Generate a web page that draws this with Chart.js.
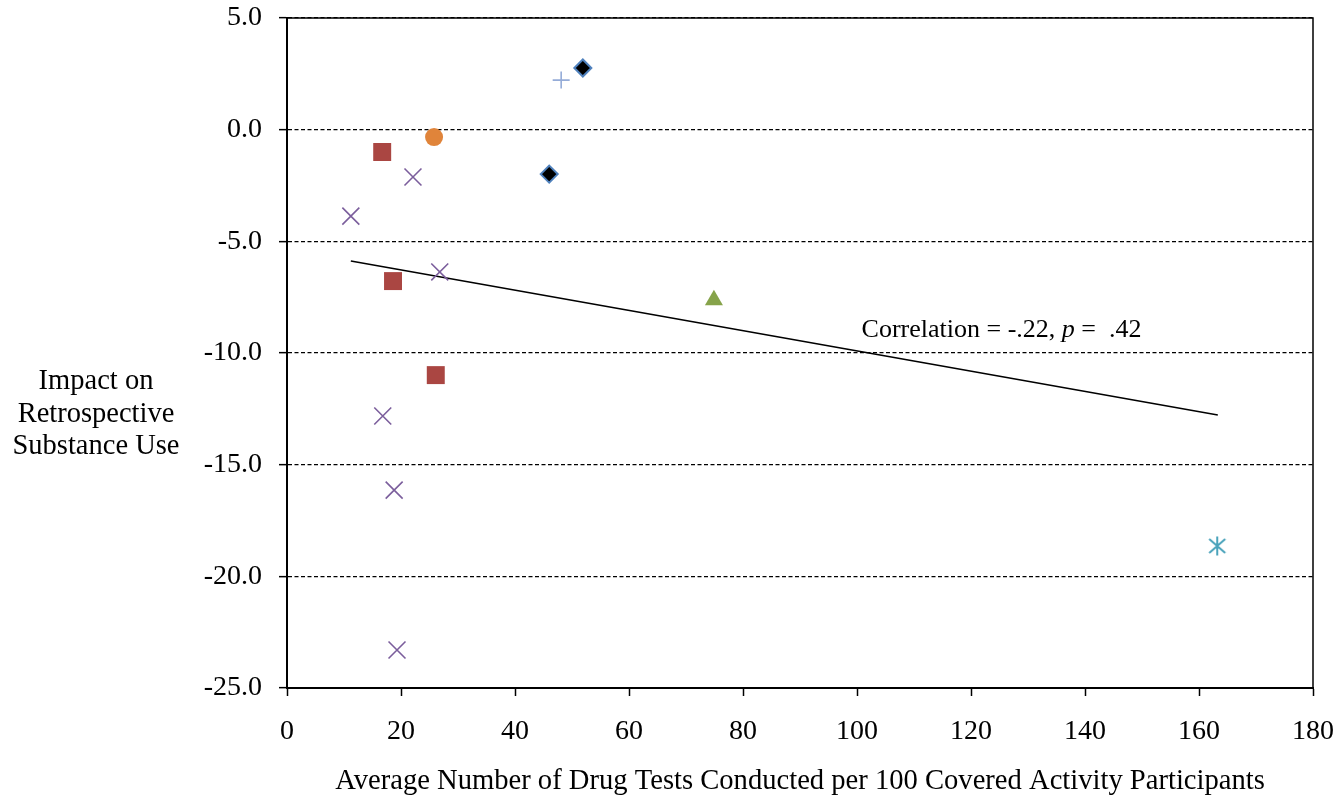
<!DOCTYPE html>
<html>
<head>
<meta charset="utf-8">
<script src="https://cdn.jsdelivr.net/npm/chart.js@4"></script>
<style>
  html, body { margin: 0; padding: 0; background: #fff; }
  #wrap { width: 1341px; height: 798px; }
</style>
</head>
<body>
<div id="wrap"><canvas id="chart" width="1341" height="798"></canvas></div>
<script>
// site values: tests per 100 participants (x) and impact (y)
const diamondX = [51.9, 46.0];
const diamondY = [2.76, -1.99];
const plusX = [48.1];
const plusY = [2.22];
const circleX = [25.8];
const circleY = [-0.33];
const squareX = [16.7, 18.6, 26.1];
const squareY = [-1.0, -6.78, -10.99];
const crossX = [11.2, 22.1, 26.8, 16.8, 18.8, 19.3];
const crossY = [-3.87, -2.12, -6.37, -12.82, -16.14, -23.3];
const triangleX = [74.9];
const triangleY = [-7.63];
const starX = [163.2];
const starY = [-18.64];

// fitted line end points
const trendX = [11.2, 163.3];
const trendY = [-5.88, -12.78];

const xTicks = [0, 20, 40, 60, 80, 100, 120, 140, 160, 180];
const yTicks = [5, 0, -5, -10, -15, -20, -25];

const yTitle = ['Impact on', 'Retrospective', 'Substance Use'];
const xTitle = 'Average Number of Drug Tests Conducted per 100 Covered Activity Participants';

const serif = '"Liberation Serif", "Times New Roman", serif';
const fontSize = 28;

function pts(xs, ys) {
    return xs.map((x, i) => ({ x: x, y: ys[i] }));
}

// Excel style asterisk: vertical bar plus an X
function asteriskMarker(color) {
    const c = document.createElement('canvas');
    c.width = 22;
    c.height = 22;
    const g = c.getContext('2d');
    g.strokeStyle = color;
    g.lineWidth = 2;
    g.beginPath();
    g.moveTo(11, 1.5); g.lineTo(11, 20.5);
    g.moveTo(3, 4); g.lineTo(19, 18);
    g.moveTo(19, 4); g.lineTo(3, 18);
    g.stroke();
    return c;
}

// frame on top/right plus the free text labels
const extras = {
    id: 'extras',
    afterDraw(chart) {
        const ctx = chart.ctx;
        const a = chart.chartArea;
        ctx.save();
        ctx.strokeStyle = '#000';
        ctx.lineWidth = 1.5;
        ctx.beginPath();
        ctx.moveTo(a.left, a.top);
        ctx.lineTo(a.right, a.top);
        ctx.lineTo(a.right, a.bottom);
        ctx.stroke();

        ctx.fillStyle = '#000';
        ctx.font = '28.5px ' + serif;
        ctx.textAlign = 'center';
        ctx.textBaseline = 'middle';
        yTitle.forEach((t, i) => ctx.fillText(t, 96, 382 + i * 32.5));
        ctx.font = '28.6px ' + serif;
        ctx.fillText(xTitle, (a.left + a.right) / 2, 781);

        // correlation note
        const sx = chart.scales.x, sy = chart.scales.y;
        let tx = sx.getPixelForValue(100.8);
        const ty = sy.getPixelForValue(-8.97);
        ctx.textAlign = 'left';
        const parts = [['Correlation = -.22, ', ''], ['p', 'italic '], [' =  .42', '']];
        parts.forEach(p => {
            ctx.font = p[1] + '26px ' + serif;
            ctx.fillText(p[0], tx, ty);
            tx += ctx.measureText(p[0]).width;
        });
        ctx.restore();
    }
};

new Chart(document.getElementById('chart'), {
    type: 'scatter',
    data: {
        datasets: [
            {
                data: pts(trendX, trendY),
                showLine: true,
                borderColor: '#000',
                borderWidth: 1.5,
                pointRadius: 0,
                order: 10
            },
            {
                data: pts(diamondX, diamondY),
                pointStyle: 'rectRot',
                pointRadius: 8.5,
                backgroundColor: '#000',
                borderColor: '#4f81bd',
                borderWidth: 2
            },
            {
                data: pts(plusX, plusY),
                pointStyle: 'cross',
                pointRadius: 8.5,
                borderColor: '#95acd8',
                borderWidth: 1.6
            },
            {
                data: pts(circleX, circleY),
                pointStyle: 'circle',
                pointRadius: 9,
                backgroundColor: '#e0843a',
                borderColor: '#e0843a',
                borderWidth: 0
            },
            {
                data: pts(squareX, squareY),
                pointStyle: 'rect',
                pointRadius: 12.7,
                backgroundColor: '#aa4642',
                borderColor: '#aa4642',
                borderWidth: 0
            },
            {
                data: pts(crossX, crossY),
                pointStyle: 'crossRot',
                pointRadius: 12,
                borderColor: '#7b5e9c',
                borderWidth: 1.6
            },
            {
                data: pts(triangleX, triangleY),
                pointStyle: 'triangle',
                pointRadius: 10.4,
                backgroundColor: '#86a34a',
                borderColor: '#86a34a',
                borderWidth: 0
            },
            {
                data: pts(starX, starY),
                pointStyle: asteriskMarker('#4aa3bb')
            }
        ]
    },
    options: {
        responsive: false,
        animation: false,
        layout: { padding: { top: 18, right: 28, left: 0, bottom: 0 } },
        plugins: {
            legend: { display: false },
            tooltip: { enabled: false }
        },
        scales: {
            x: {
                type: 'linear',
                min: 0,
                max: 180,
                afterBuildTicks: s => { s.ticks = xTicks.map(v => ({ value: v })); },
                afterFit: s => { s.height = 110; s.paddingLeft = 0; s.paddingRight = 0; },
                grid: {
                    drawOnChartArea: false,
                    tickLength: 8,
                    tickColor: '#000',
                    tickWidth: 1.5
                },
                border: { color: '#000', width: 2 },
                ticks: {
                    color: '#000',
                    padding: 19,
                    maxRotation: 0,
                    font: { family: serif, size: fontSize }
                }
            },
            y: {
                type: 'linear',
                min: -25,
                max: 5,
                afterBuildTicks: s => { s.ticks = yTicks.map(v => ({ value: v })); },
                afterFit: s => { s.width = 287; s.paddingTop = 0; s.paddingBottom = 0; },
                grid: {
                    color: '#000',
                    lineWidth: 1.3,
                    tickLength: 8,
                    tickColor: '#000',
                    tickWidth: 1.5
                },
                border: { color: '#000', width: 2, dash: [4, 2.5] },
                ticks: {
                    color: '#000',
                    padding: 17,
                    font: { family: serif, size: fontSize },
                    callback: v => v.toFixed(1)
                }
            }
        }
    },
    plugins: [extras]
});
</script>
</body>
</html>
